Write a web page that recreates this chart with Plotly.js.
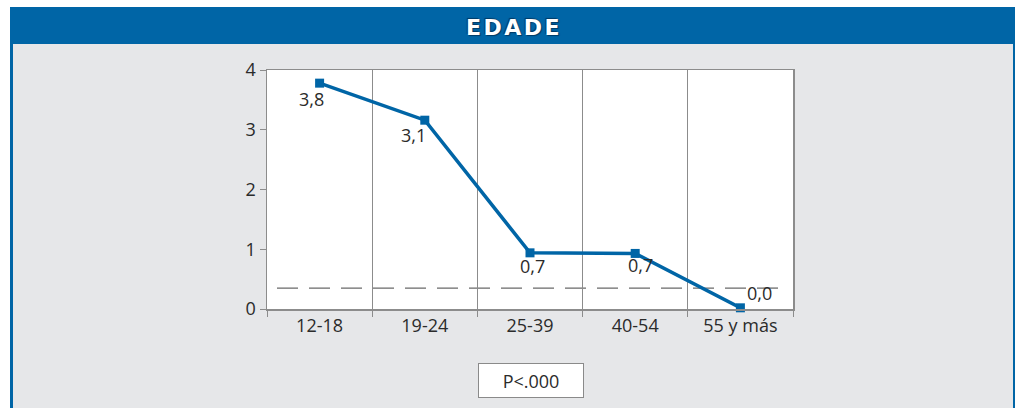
<!DOCTYPE html>
<html>
<head>
<meta charset="utf-8">
<script src="https://cdn.plot.ly/plotly-3.0.1.min.js"></script>
<style>
html,body{margin:0;padding:0;background:#fff;}
#chart{width:1015px;height:408px;}
#chart .gtitle{letter-spacing:2.5px;}
</style>
</head>
<body>
<div id="chart"></div>
<script>
// ---- data ----
const categories = ["12-18", "19-24", "25-39", "40-54", "55 y más"];
const values = [3.78, 3.16, 0.94, 0.93, 0.02];
const valueLabels = ["3,8", "3,1", "0,7", "0,7", "0,0"];
const yTickVals = [0, 1, 2, 3, 4];
const refLine = 0.35;
const chartTitle = "EDADE";
const noteText = "P<.000";

// ---- layout helpers (pixel -> paper) ----
const W = 1015, H = 408;
const M = {l: 267, r: 222, t: 70, b: 99};
const PW = W - M.l - M.r, PH = H - M.t - M.b;
const px = x => (x - M.l) / PW;
const py = y => 1 - (y - M.t) / PH;
const catW = PW / categories.length;
const pxToCat = x => (x - M.l) / catW - 0.5;

const blue = "#0065a6";
const gray = "#e6e7e9";
const axisGray = "#8c8c8c";
const txt = "#2b2b2b";
const font = "'Open Sans', 'Liberation Sans', sans-serif";

const labelShifts = [[-8, -16], [-11, -15], [2, -13], [5, -12], [19, 15]];

const trace = {
  x: categories,
  y: values,
  type: "scatter",
  mode: "lines+markers",
  line: {color: blue, width: 3.5},
  marker: {symbol: "square", size: 9, color: blue},
  hoverinfo: "x+y",
  cliponaxis: false
};

const annotations = valueLabels.map((t, i) => ({
  x: categories[i], y: values[i], xref: "x", yref: "y",
  text: t, showarrow: false,
  xshift: labelShifts[i][0], yshift: labelShifts[i][1],
  font: {family: font, size: 18, color: txt}
}));
annotations.push({
  x: px(531), y: py(380.5), xref: "paper", yref: "paper",
  xanchor: "center", yanchor: "middle",
  text: noteText, showarrow: false,
  width: 102, height: 31, borderpad: 1,
  bgcolor: "#ffffff", bordercolor: "#8a8a8a", borderwidth: 1,
  font: {family: font, size: 18, color: txt}
});

const shapes = [
  // gray panel
  {type: "rect", xref: "paper", yref: "paper", layer: "below",
   x0: px(10), x1: px(1016), y0: py(409), y1: py(44),
   fillcolor: gray, line: {width: 0}},
  // header band
  {type: "rect", xref: "paper", yref: "paper", layer: "below",
   x0: px(10), x1: px(1016), y0: py(44), y1: py(7),
   fillcolor: blue, line: {width: 0}},
  // left border
  {type: "rect", xref: "paper", yref: "paper", layer: "below",
   x0: px(10), x1: px(13), y0: py(409), y1: py(44),
   fillcolor: blue, line: {width: 0}},
  // right border
  {type: "rect", xref: "paper", yref: "paper", layer: "below",
   x0: px(1013), x1: px(1016), y0: py(409), y1: py(44),
   fillcolor: blue, line: {width: 0}},
  // plot area
  {type: "rect", xref: "paper", yref: "paper", layer: "below",
   x0: 0, x1: 1, y0: 0, y1: 1,
   fillcolor: "#ffffff", line: {width: 0}},
  // dashed reference line
  {type: "line", xref: "x", yref: "y", layer: "below",
   x0: pxToCat(277), x1: pxToCat(778), y0: refLine, y1: refLine,
   line: {color: "#6a6a6a", width: 1.3, dash: "21px,11px"}}
];

const layout = {
  width: W, height: H,
  margin: M,
  paper_bgcolor: "#ffffff",
  plot_bgcolor: "rgba(0,0,0,0)",
  showlegend: false,
  title: {
    text: chartTitle,
    x: 514 / W, xanchor: "center",
    y: 1 - 27 / H, yanchor: "middle",
    yref: "container", xref: "container",
    font: {family: "'DejaVu Sans', sans-serif", size: 22, color: "#ffffff", weight: "bold",
           shadow: "1px 1px 1px #003a66, -1px -1px 1px #003a66"}
  },
  xaxis: {
    type: "category",
    range: [-0.5, 4.5],
    tickson: "boundaries",
    ticks: "outside", ticklen: 6, tickcolor: axisGray, tickwidth: 1,
    showgrid: true, gridcolor: axisGray, gridwidth: 1,
    showline: true, linecolor: axisGray, linewidth: 1.5, mirror: true,
    tickfont: {family: font, size: 18, color: txt},
    zeroline: false, fixedrange: true
  },
  yaxis: {
    range: [0, 4],
    tickvals: yTickVals,
    ticktext: yTickVals.map(String),
    ticks: "outside", ticklen: 6, tickcolor: axisGray, tickwidth: 1,
    showgrid: false,
    showline: true, linecolor: axisGray, linewidth: 1.5, mirror: true,
    tickfont: {family: font, size: 18, color: txt},
    zeroline: false, fixedrange: true
  },
  shapes: shapes,
  annotations: annotations
};

Plotly.newPlot("chart", [trace], layout, {displayModeBar: false, staticPlot: true});
</script>
</body>
</html>
